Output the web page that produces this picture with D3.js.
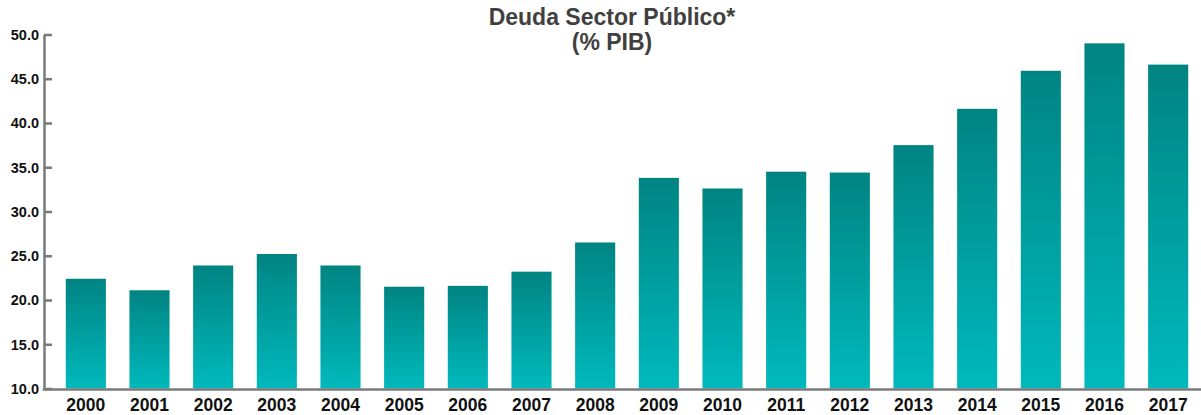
<!DOCTYPE html>
<html>
<head>
<meta charset="utf-8">
<script src="https://cdn.jsdelivr.net/npm/d3@7"></script>
<style>
  html, body { margin: 0; padding: 0; background: #ffffff; }
  svg { display: block; }
  text { font-family: "Liberation Sans", Arial, Helvetica, sans-serif; }
</style>
</head>
<body>
<svg id="chart" width="1201" height="415"></svg>
<script>
// Public sector debt, % of GDP
const years = ["2000","2001","2002","2003","2004","2005","2006","2007","2008",
               "2009","2010","2011","2012","2013","2014","2015","2016","2017"];
const debt = [22.4, 21.1, 23.9, 25.2, 23.9, 21.5, 21.6, 23.2, 26.5,
              33.8, 32.6, 34.5, 34.4, 37.5, 41.6, 45.9, 49.0, 46.6];
const yTicks = [10, 15, 20, 25, 30, 35, 40, 45, 50];
const titleLines = ["Deuda Sector Público*", "(% PIB)"];

const svg = d3.select("#chart");
const W = 1201, H = 415;
const axisX = 44, baseY = 388.5, topY = 34.5;

const x = d3.scaleBand()
  .domain(years)
  .range([54, 1200])
  .paddingInner(0.37)
  .paddingOuter(0.185);

const y = d3.scaleLinear()
  .domain([10, 50])
  .range([baseY, topY]);

// vertical gradient applied to each bar
const defs = svg.append("defs");
const grad = defs.append("linearGradient")
  .attr("id", "barFill")
  .attr("x1", 0).attr("y1", 0).attr("x2", 0).attr("y2", 1);
grad.append("stop").attr("offset", "0%").attr("stop-color", "#008482");
grad.append("stop").attr("offset", "100%").attr("stop-color", "#00b9bc");

// bars
svg.append("g")
  .selectAll("rect")
  .data(years.map((yr, i) => ({ yr, v: debt[i] })))
  .join("rect")
  .attr("x", d => x(d.yr))
  .attr("width", x.bandwidth())
  .attr("y", d => y(d.v))
  .attr("height", d => y(10) - y(d.v))
  .attr("fill", "url(#barFill)");

// y axis
const yAxis = d3.axisRight(y)
  .tickValues(yTicks)
  .tickFormat(d3.format(".1f"))
  .tickSize(8)
  .tickSizeOuter(0);
const gy = svg.append("g")
  .attr("transform", `translate(${axisX},0)`)
  .call(yAxis);
gy.select(".domain").attr("stroke", "#7a7a7a").attr("stroke-width", 2.5);
gy.selectAll(".tick line").attr("stroke", "#7a7a7a").attr("stroke-width", 2.5);
gy.selectAll(".tick text")
  .attr("x", -5)
  .attr("text-anchor", "end")
  .attr("dy", "0.34em")
  .attr("fill", "#111")
  .style("font-size", "14.5px")
  .style("font-weight", "bold");

// x axis
const xAxis = d3.axisBottom(x).tickSize(0).tickSizeOuter(0);
const gx = svg.append("g")
  .attr("transform", `translate(0,${baseY + 1})`)
  .call(xAxis);
gx.select(".domain").remove();
gx.selectAll(".tick text")
  .attr("y", 21.5)
  .attr("dy", 0)
  .attr("fill", "#111")
  .style("font-size", "17.5px")
  .style("font-weight", "bold");
svg.append("line")
  .attr("x1", axisX - 1.25).attr("x2", W)
  .attr("y1", baseY + 1).attr("y2", baseY + 1)
  .attr("stroke", "#7a7a7a").attr("stroke-width", 2.5);

// title
svg.append("g")
  .selectAll("text")
  .data(titleLines)
  .join("text")
  .attr("x", 612)
  .attr("y", (d, i) => 25 + i * 25)
  .attr("text-anchor", "middle")
  .attr("fill", "#404040")
  .style("font-size", "23px")
  .style("font-weight", "bold")
  .text(d => d);
</script>
</body>
</html>
